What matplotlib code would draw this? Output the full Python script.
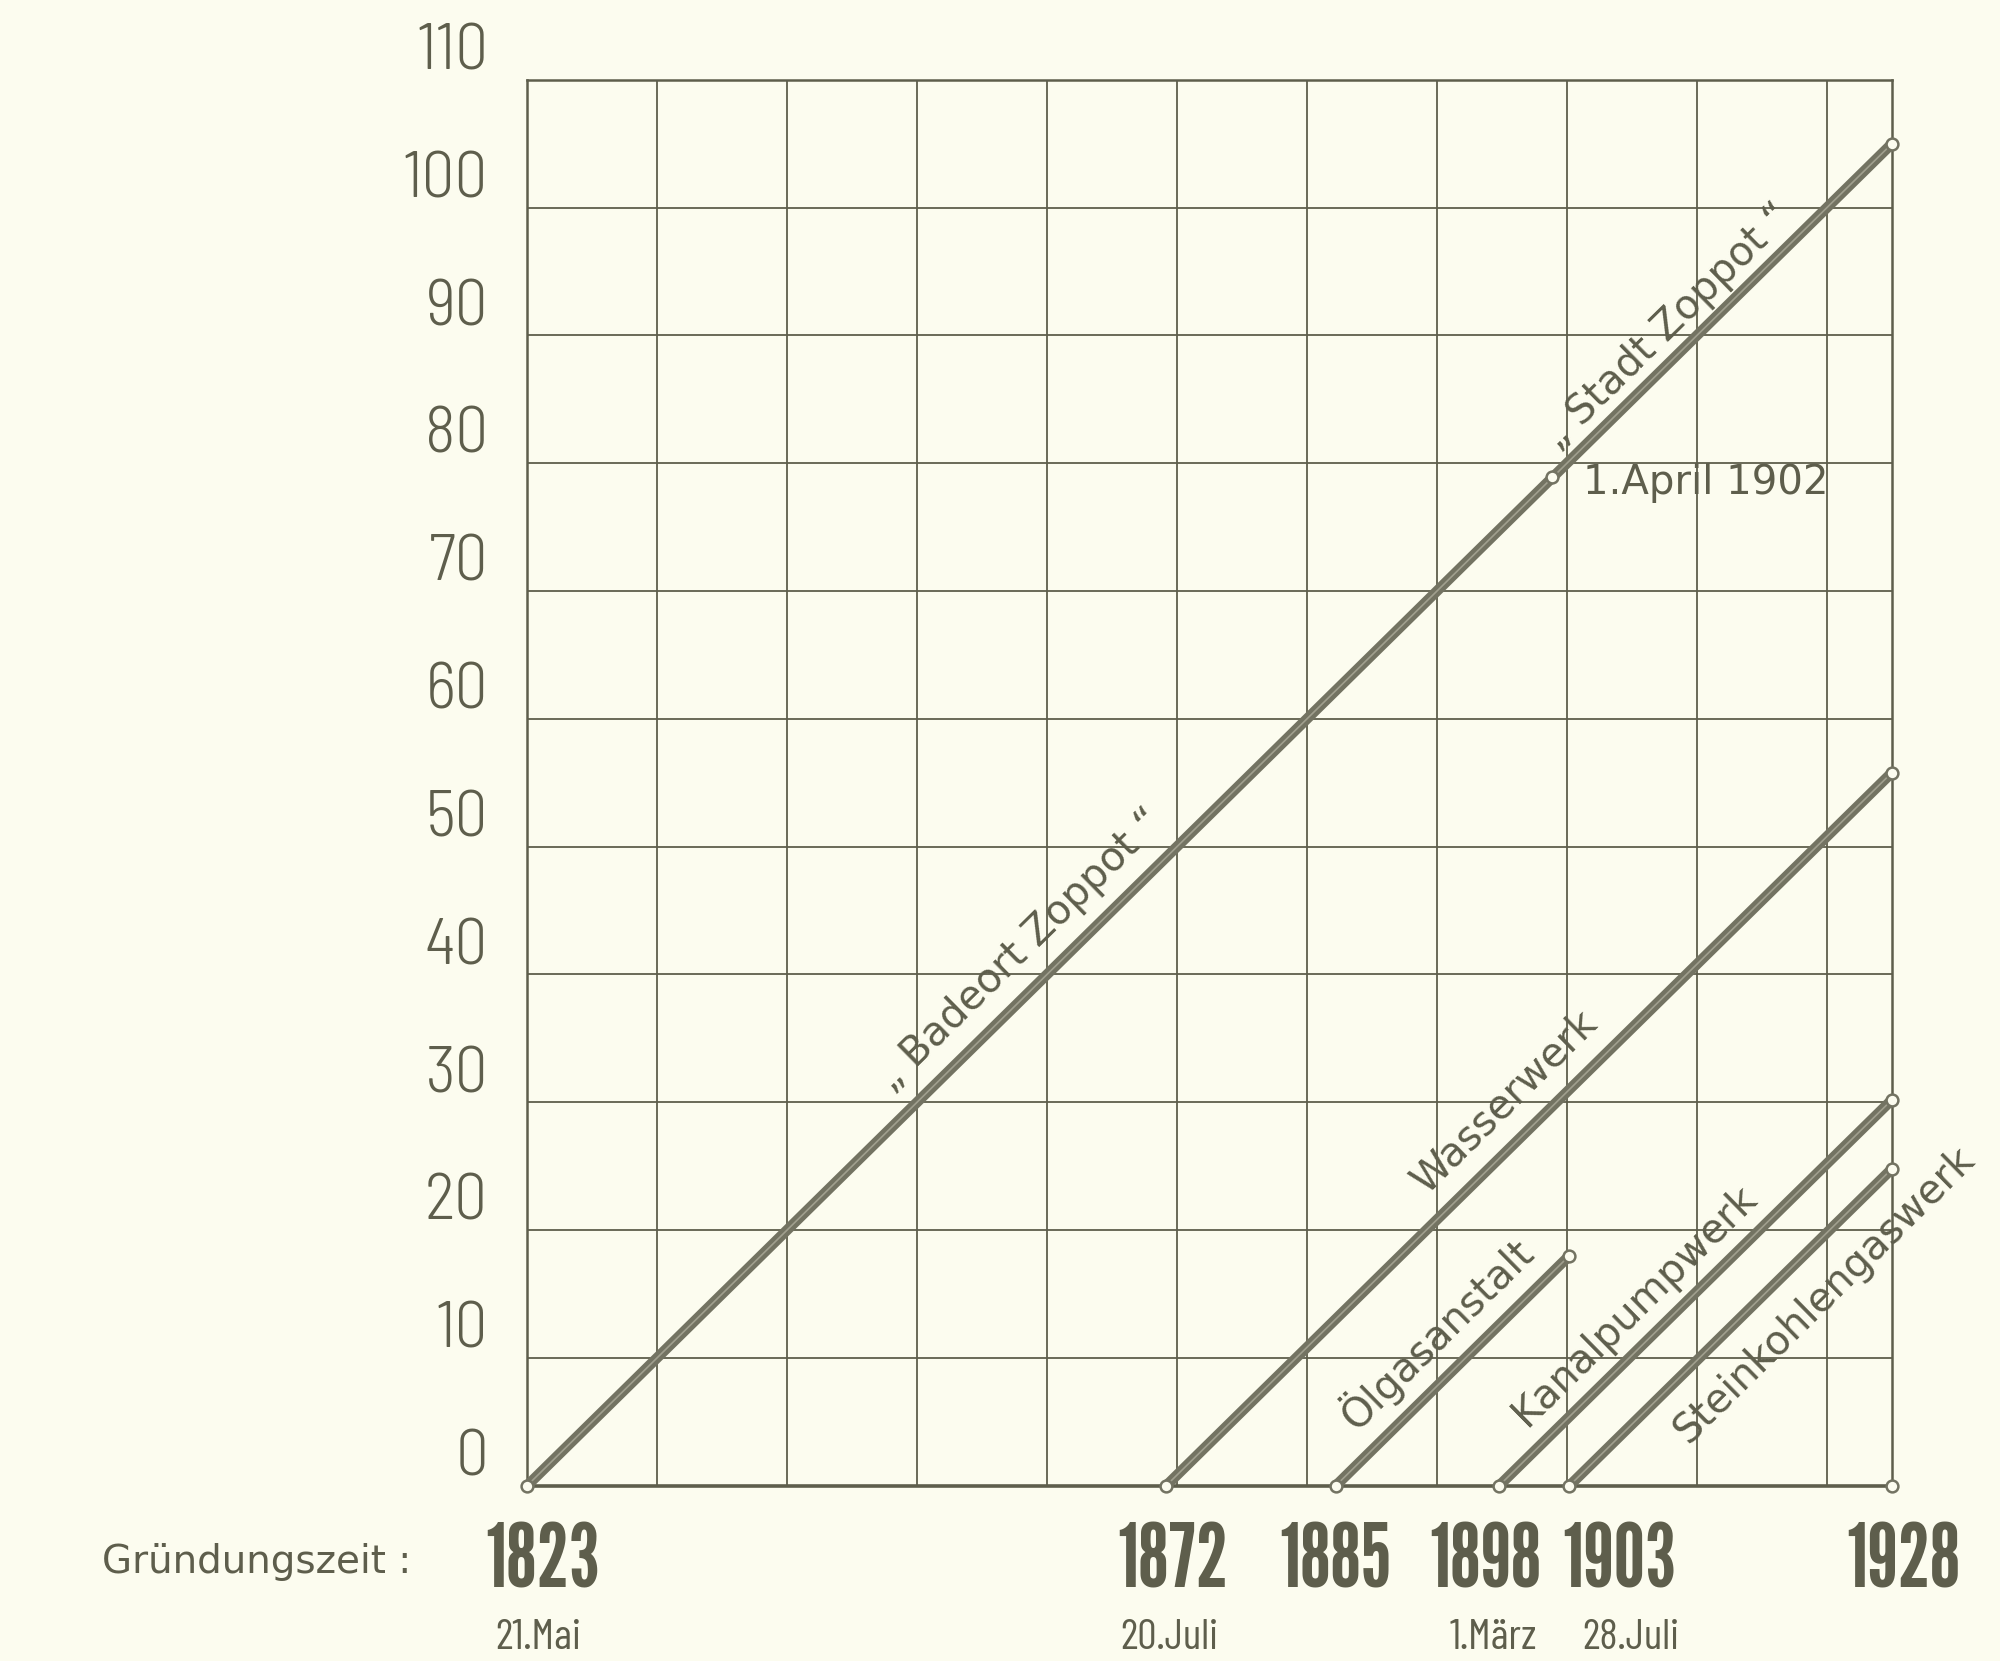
import numpy as np
import matplotlib.pyplot as plt
from matplotlib.transforms import blended_transform_factory

# Gruendungsdaten (Dezimaljahre) und erreichtes Alter am Ende der Linie
names = ['„ Badeort Zoppot “', 'Wasserwerk', 'Ölgasanstalt', 'Kanalpumpwerk', 'Steinkohlengaswerk']
start_years = [1823.39, 1872.55, 1885.6, 1898.16, 1903.57]
end_years = [1928.39, 1928.39, 1903.57, 1928.39, 1928.39]
end_ages = [105.0, 55.8, 18.0, 30.2, 24.8]

stadt_label = '„ Stadt Zoppot “'
stadt_year = 1902.25
stadt_age = 78.9
stadt_date = '1.April 1902'

year_ticks = [1823.39, 1872.55, 1885.6, 1898.16, 1903.57, 1928.39]
year_labels = ['1823', '1872', '1885', '1898', '1903', '1928']
date_labels = ['21.Mai', '20.Juli', '', '1.März', '28.Juli', '']
age_ticks = list(range(0, 111, 10))

# Layout (nur Textlage)
label_x = [1863.3, 1900.6, 1895.4, 1910.4, 1920.9]
label_off = [26, 26, 28, 24, -31]          # senkrechter Abstand zur Linie, pt
stadt_label_x = 1912.6
year_dx = [11, 5, 0, -10, 36, 8]          # pt
date_dx = [8, 2, 0, -4, 44, 0]

bg = '#fcfcef'
ink = '#5e5e4c'
line_c = '#737362'

narrow = ['League Gothic', 'Alumni Sans', 'Pathway Gothic One', 'Barlow Condensed', 'DejaVu Sans']
cond = ['Barlow Semi Condensed', 'Barlow Condensed', 'DejaVu Sans']

fig = plt.figure(figsize=(20, 16.61), dpi=100, facecolor=bg)
ax = fig.add_axes([0.2635, 0.1055, 0.6825, 0.8465])
ax.set_facecolor(bg)

x0 = start_years[0]
ax.set_xlim(x0, x0 + 105)
ax.set_ylim(0, 110)

# Gitter
for k in range(1, 11):
    ax.axvline(x0 + 10 * k, color=ink, lw=1.3, zorder=1)
for v in age_ticks[1:-1]:
    ax.axhline(v, color=ink, lw=1.3, zorder=1)
for side in ['left', 'top', 'right']:
    ax.spines[side].set_color(ink)
    ax.spines[side].set_linewidth(1.8)
ax.spines['bottom'].set_color(ink)
ax.spines['bottom'].set_linewidth(2.6)
ax.set_xticks([])
ax.set_yticks([])

# Linien (Doppelstrich)
for s, e, a in zip(start_years, end_years, end_ages):
    ax.plot([s, e], [0, a], color=line_c, lw=7.5, solid_capstyle='butt', zorder=3, clip_on=False)
    ax.plot([s, e], [0, a], color='#a09f8e', lw=1.2, solid_capstyle='butt', zorder=4, clip_on=False)

# Endpunkte
mx = list(start_years) + list(end_years) + [stadt_year, end_years[0]]
my = [0] * len(start_years) + list(end_ages) + [stadt_age, 0]
ax.plot(mx, my, 'o', ms=8.5, mfc=bg, mec=line_c, mew=1.8, zorder=5, clip_on=False)

# Winkel der Linien im Bild
fig.canvas.draw()
p1 = ax.transData.transform((x0, 0))
p2 = ax.transData.transform((x0 + 10, 10))
ang = np.degrees(np.arctan2(p2[1] - p1[1], p2[0] - p1[0]))
nx, ny = -np.sin(np.radians(ang)), np.cos(np.radians(ang))


def line_label(text, x, s, e, a, off):
    y = (x - s) / (e - s) * a
    ax.annotate(text, xy=(x, y), xytext=(nx * off, ny * off), textcoords='offset points',
                rotation=ang, rotation_mode='anchor', ha='center', va='center',
                fontsize=29, color=ink, family='DejaVu Sans', zorder=6, annotation_clip=False)


for i, name in enumerate(names):
    line_label(name, label_x[i], start_years[i], end_years[i], end_ages[i], label_off[i])
line_label(stadt_label, stadt_label_x, start_years[0], end_years[0], end_ages[0], 19)

ax.annotate(stadt_date, xy=(stadt_year, stadt_age), xytext=(22, -4), textcoords='offset points',
            ha='left', va='center', fontsize=29, color=ink, family='DejaVu Sans', zorder=6)

# Alters-Achse
yt = blended_transform_factory(ax.transAxes, ax.transData)
for v in age_ticks:
    ax.annotate(str(v), xy=(0, v), xycoords=yt, xytext=(-28, -2), textcoords='offset points',
                ha='right', va='bottom', fontsize=47, color=ink, family=cond, fontweight=300)

# Gruendungszeit-Achse
xt = blended_transform_factory(ax.transData, fig.transFigure)
for i, x in enumerate(year_ticks):
    ax.annotate(year_labels[i], xy=(x, 0.0590), xycoords=xt, xytext=(year_dx[i], 0),
                textcoords='offset points', ha='center', va='center', fontsize=64,
                color=ink, family=narrow)
    if date_labels[i]:
        ax.annotate(date_labels[i], xy=(x, 0.0135), xycoords=xt, xytext=(date_dx[i], 0),
                    textcoords='offset points', ha='center', va='center', fontsize=31,
                    color=ink, family=['Barlow Condensed', 'DejaVu Sans'])

fig.text(0.051, 0.0596, 'Gründungszeit :', ha='left', va='center', fontsize=28,
         color=ink, family='DejaVu Sans')

fig.savefig('out.png', dpi=100, facecolor=bg)
